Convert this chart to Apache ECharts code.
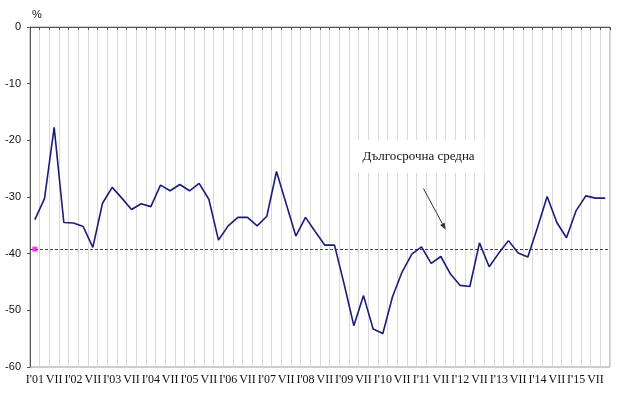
<!DOCTYPE html>
<html>
<head>
<meta charset="utf-8">
<script src="https://cdn.jsdelivr.net/npm/echarts@6/dist/echarts.min.js"></script>
<style>html,body{margin:0;padding:0;background:#fff}#c{width:630px;height:400px}</style>
</head>
<body>
<div id="c"></div>
<script>
// Quarterly categories 2001–2015 (I, IV, VII, X)
const years = ['01','02','03','04','05','06','07','08','09','10','11','12','13','14','15'];
const quarters = ['I','IV','VII','X'];
const categories = [];
years.forEach(y => quarters.forEach(q => categories.push(q + "'" + y)));

// Balance indicator, %
const values = [
  -34.0, -30.3, -17.7, -34.5, -34.6, -35.2, -38.9, -31.1, -28.3, -30.2,
  -32.2, -31.2, -31.7, -27.9, -28.9, -27.8, -28.9, -27.6, -30.4, -37.6,
  -35.1, -33.6, -33.6, -35.1, -33.4, -25.5, -31.2, -36.9, -33.6, -36.1,
  -38.5, -38.5, -45.4, -52.7, -47.4, -53.3, -54.1, -47.6, -43.2, -40.1,
  -38.8, -41.7, -40.5, -43.6, -45.6, -45.8, -38.1, -42.3, -39.9, -37.7,
  -39.9, -40.6, -35.4, -29.9, -34.5, -37.2, -32.4, -29.8, -30.2, -30.2
];
const longTermAverage = -39.2;
const avgMarker = [[0, longTermAverage]];
const annotationText = 'Дългосрочна средна';

const chart = echarts.init(document.getElementById('c'), null, {renderer: 'canvas'});

function tickLabel(v) {
  const parts = v.split("'");
  if (parts[0] === 'I') return v;
  if (parts[0] === 'VII') return 'VII';
  return '';
}

chart.setOption({
  animation: false,
  grid: {left: 30, right: 20, top: 27, bottom: 33, show: true, borderColor: '#9a9a9a', borderWidth: 1},
  xAxis: [
    {
      type: 'category', data: categories, boundaryGap: true, position: 'bottom',
      axisLine: {show: false, onZero: false},
      axisTick: {show: false},
      axisLabel: {interval: 1, formatter: tickLabel, margin: 7,
        fontFamily: 'Liberation Serif', fontSize: 12, color: '#111'},
      splitLine: {show: true, interval: 0, lineStyle: {color: '#d9d9d9', width: 1}}
    },
    {
      type: 'category', data: categories, boundaryGap: true, position: 'top',
      axisLine: {show: true, onZero: false, lineStyle: {color: '#555', width: 1}},
      axisTick: {show: true, inside: true, interval: 0, length: 3, lineStyle: {color: '#555'}},
      axisLabel: {show: false},
      splitLine: {show: false}
    }
  ],
  yAxis: {
    type: 'value', min: -60, max: 0, interval: 10,
    name: '%', nameLocation: 'end', nameGap: 7,
    nameTextStyle: {fontFamily: 'Liberation Sans', fontSize: 11, color: '#111', align: 'left', padding: [0, 0, 0, 2]},
    axisLine: {show: true, lineStyle: {color: '#555', width: 1}},
    axisTick: {show: true, length: 3, lineStyle: {color: '#555'}},
    axisLabel: {fontFamily: 'Liberation Sans', fontSize: 11, color: '#111', margin: 9},
    splitLine: {show: false}
  },
  series: [
    {
      type: 'line', data: values, xAxisIndex: 0,
      symbol: 'none', lineStyle: {color: '#1c1c78', width: 1.6}, z: 5,
      markLine: {
        silent: true, symbol: ['none', 'none'], label: {show: false},
        lineStyle: {color: '#444', type: [3, 2], width: 1},
        data: [{yAxis: longTermAverage}]
      }
    },
    {
      type: 'scatter', data: avgMarker, xAxisIndex: 0,
      symbol: 'rect', symbolSize: 5, itemStyle: {color: '#ff00ff'}, z: 6
    }
  ]
});

// Annotation placed in data space (category index, value)
function toPx(idx, val) {
  const i0 = Math.floor(idx), f = idx - i0;
  const a = chart.convertToPixel({xAxisIndex: 0, yAxisIndex: 0}, [i0, val]);
  const b = chart.convertToPixel({xAxisIndex: 0, yAxisIndex: 0}, [i0 + 1, val]);
  return [a[0] + f * (b[0] - a[0]), a[1]];
}
const tPos = toPx(39.7, -22.8);
const aStart = toPx(40.2, -28.5);
const aEnd = toPx(42.5, -35.8);
const ang = Math.atan2(aEnd[1] - aStart[1], aEnd[0] - aStart[0]);
const hl = 7, hw = 2.5;
const bx = aEnd[0] - hl * Math.cos(ang), by = aEnd[1] - hl * Math.sin(ang);
chart.setOption({
  graphic: [
    {
      type: 'text', x: tPos[0], y: tPos[1], z: 10,
      style: {text: annotationText, fontFamily: 'Liberation Serif', fontSize: 13, fill: '#111',
        align: 'center', verticalAlign: 'middle', backgroundColor: '#fff', padding: [10, 10]}
    },
    {
      type: 'line', z: 10,
      shape: {x1: aStart[0], y1: aStart[1], x2: bx, y2: by},
      style: {stroke: '#333', lineWidth: 1}
    },
    {
      type: 'polygon', z: 10,
      shape: {points: [
        [aEnd[0], aEnd[1]],
        [bx + hw * Math.sin(ang), by - hw * Math.cos(ang)],
        [bx - hw * Math.sin(ang), by + hw * Math.cos(ang)]
      ]},
      style: {fill: '#333'}
    }
  ]
});
</script>
</body>
</html>
